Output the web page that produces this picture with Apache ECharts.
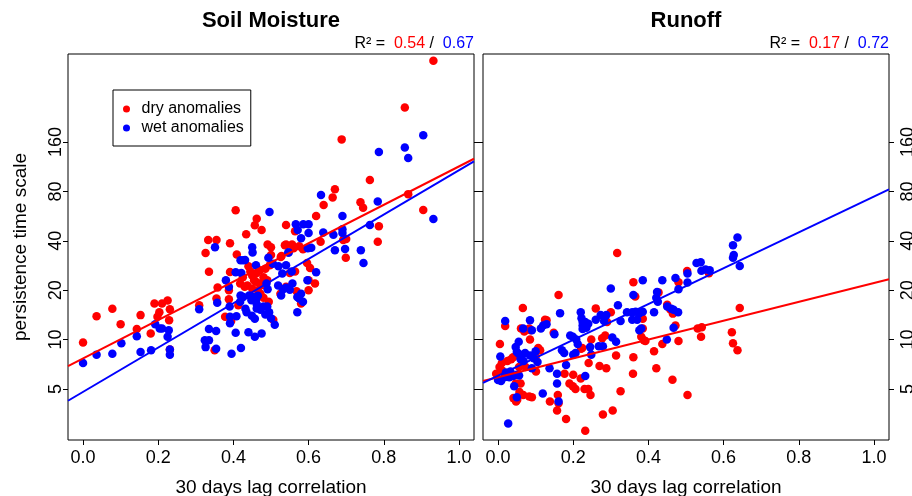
<!DOCTYPE html>
<html>
<head>
<meta charset="utf-8">
<script src="https://cdn.jsdelivr.net/npm/echarts@6/dist/echarts.min.js"></script>
<style>
html, body { margin: 0; padding: 0; background: #fff; }
#main { width: 912px; height: 496px; }
</style>
</head>
<body>
<div id="main"></div>
<script>
// tick positions
var xTicks = [0, 0.2, 0.4, 0.6, 0.8, 1.0];
var yTicks = [5, 10, 20, 40, 80, 160];

// soil moisture: [lag correlation, persistence time scale]
var smDry = [
	[0.00, 9.6], [0.036, 13.9], [0.078, 15.4], [0.10, 12.4], [0.143, 11.6], [0.153, 14.1], [0.18, 10.9],
	[0.19, 16.6], [0.198, 13.8], [0.203, 14.7], [0.21, 16.6], [0.225, 17.3], [0.231, 15.3], [0.229, 13.1],
	[0.231, 8.7], [0.309, 16.2], [0.35, 8.6], [0.326, 33.7], [0.333, 40.5], [0.355, 40.5], [0.335, 25.9],
	[0.358, 20.8], [0.355, 17.8], [0.391, 38.7], [0.391, 25.8], [0.388, 20], [0.388, 17.6], [0.378, 13.8],
	[0.394, 13.0], [0.406, 61.5], [0.409, 33], [0.418, 22], [0.413, 16.2], [0.434, 43.9], [0.44, 28],
	[0.437, 21.4], [0.45, 24.6], [0.455, 23], [0.462, 25.5], [0.47, 22], [0.462, 54.5], [0.457, 49.8],
	[0.475, 46.6], [0.491, 38], [0.5, 36.5], [0.5, 32.8], [0.497, 28.4], [0.494, 17], [0.506, 13.2],
	[0.526, 31.9], [0.54, 50], [0.564, 45.7], [0.537, 37.6], [0.55, 25.5], [0.564, 26], [0.56, 36],
	[0.575, 37], [0.585, 35.5], [0.568, 19.7], [0.58, 16.6], [0.596, 29.3], [0.604, 27.3], [0.60, 23],
	[0.60, 20], [0.617, 22], [0.62, 56.7], [0.64, 66], [0.632, 39.5], [0.664, 73.5], [0.67, 82.5],
	[0.688, 166], [0.692, 40.5], [0.699, 31.5], [0.70, 41], [0.738, 68.8], [0.745, 63.5], [0.763, 94],
	[0.787, 49], [0.784, 39.5], [0.865, 77], [0.856, 260], [0.905, 61.7], [0.932, 500], [0.528, 32.3],
	[0.54, 38], [0.556, 38], [0.425, 24], [0.43, 21], [0.445, 26], [0.45, 20.5], [0.46, 22.5], [0.465, 20],
	[0.47, 26.5], [0.48, 24], [0.485, 27], [0.445, 18.5], [0.472, 19], [0.478, 21.5], [0.49, 23], [0.48, 18],
	[0.525, 19], [0.54, 21]
];
var smWet = [
	[0.0, 7.2], [0.036, 8.1], [0.078, 8.2], [0.102, 9.5], [0.143, 10.5], [0.153, 8.4], [0.181, 8.6],
	[0.192, 12.4], [0.204, 11.7], [0.21, 11.7], [0.225, 10.4], [0.228, 11.4], [0.231, 8.7], [0.231, 8.1],
	[0.309, 15.3], [0.324, 9.9], [0.335, 9.9], [0.326, 9.0], [0.335, 11.6], [0.354, 11.3], [0.354, 8.8],
	[0.351, 36.5], [0.357, 16.8], [0.38, 23], [0.388, 21], [0.39, 15.9], [0.391, 13.8], [0.391, 12.6],
	[0.395, 8.2], [0.406, 25.7], [0.408, 13.9], [0.406, 11.0], [0.419, 30.5], [0.421, 25.5], [0.419, 18.6],
	[0.418, 17.0], [0.42, 8.9], [0.431, 30.6], [0.432, 15.4], [0.435, 14.7], [0.44, 11.1], [0.45, 36.5],
	[0.451, 34], [0.449, 14], [0.457, 13.4], [0.457, 10.4], [0.46, 28.4], [0.46, 17.5], [0.465, 18.5],
	[0.462, 16.5], [0.475, 10.9], [0.488, 22], [0.493, 31.5], [0.491, 20.3], [0.49, 15.9], [0.495, 14.7],
	[0.50, 13.5], [0.51, 12.3], [0.496, 60], [0.505, 29], [0.52, 28], [0.519, 21.4], [0.527, 18.6],
	[0.53, 25.3], [0.54, 28.4], [0.54, 20.7], [0.547, 33.9], [0.557, 22], [0.566, 50.5], [0.586, 50.5],
	[0.6, 50.5], [0.571, 46.6], [0.6, 44.6], [0.58, 41.5], [0.58, 19], [0.57, 18.2], [0.575, 17.8],
	[0.585, 17], [0.57, 14.7], [0.597, 23], [0.598, 36], [0.607, 36.3], [0.62, 25.7], [0.633, 76],
	[0.639, 45], [0.666, 43.6], [0.67, 35], [0.69, 56.7], [0.69, 47], [0.69, 44.7], [0.697, 35.6],
	[0.739, 35], [0.746, 29.3], [0.763, 50], [0.784, 69.5], [0.787, 139], [0.856, 148], [0.865, 128],
	[0.905, 176], [0.932, 54.3], [0.442, 18.6], [0.426, 18.2], [0.448, 17.4], [0.455, 18.2], [0.462, 15.5],
	[0.472, 15.2], [0.48, 15.9], [0.485, 14.2], [0.426, 30.5], [0.555, 26], [0.532, 20.3], [0.55, 20.1],
	[0.546, 34]
];
var smDryFit = [[-0.04, 6.9], [1.04, 126.5]];
var smWetFit = [[-0.04, 4.24], [1.04, 122]];

// runoff
var roDry = [
	[0.317, 33.7], [0.36, 22.4], [0.365, 18.3], [0.30, 14.7], [0.26, 15.5], [0.29, 12.8], [0.277, 10.2],
	[0.248, 10.0], [0.221, 8.8], [0.241, 7.2], [0.27, 6.9], [0.288, 6.7], [0.314, 8.0], [0.36, 7.8],
	[0.359, 6.2], [0.326, 4.85], [0.305, 3.7], [0.279, 3.5], [0.232, 2.78], [0.181, 3.28], [0.157, 3.7],
	[0.138, 4.2], [0.159, 4.6], [0.177, 6.2], [0.19, 5.4], [0.199, 5.2], [0.206, 5.0], [0.23, 5.0],
	[0.24, 5.0], [0.246, 4.6], [0.20, 6.1], [0.22, 5.8], [0.224, 8.9], [0.148, 11], [0.161, 18.7],
	[0.125, 13.2], [0.129, 13.1], [0.107, 8.9], [0.112, 8.6], [0.101, 6.4], [0.1, 7.9], [0.083, 4.5],
	[0.09, 4.45], [0.067, 4.6], [0.057, 4.8], [0.048, 4.2], [0.041, 4.4], [0.051, 4.3], [0.066, 15.6],
	[0.061, 11.7], [0.07, 11.2], [0.083, 11.7], [0.087, 11.4], [0.085, 10], [0.019, 12.1], [0.005, 9.4],
	[0.004, 6.8], [-0.005, 6.2], [0.01, 6.5], [0.01, 7.2], [0.025, 7.4], [0.035, 7.6], [0.04, 7.8],
	[0.06, 8.0], [0.056, 6.8], [0.073, 6.8], [0.047, 5.4], [0.06, 5.4], [0.385, 13.4], [0.385, 11.7],
	[0.388, 9.9], [0.381, 10.4], [0.392, 9.8], [0.415, 8.5], [0.421, 6.7], [0.437, 9.4], [0.427, 19.4],
	[0.45, 16.3], [0.458, 15.3], [0.465, 14.4], [0.472, 12.2], [0.48, 9.8], [0.464, 5.7], [0.504, 4.6],
	[0.48, 22.4], [0.503, 26.2], [0.531, 11.7], [0.542, 11.9], [0.54, 10.4], [0.561, 25.4], [0.622, 11.1],
	[0.625, 9.5], [0.637, 8.6], [0.643, 15.6], [0.285, 10.6], [0.161, 4.1]
];
var roWet = [
	[0.027, 3.08], [0.019, 13], [0.006, 7.9], [0.0, 5.67], [0.008, 5.6], [0.017, 5.9], [0.021, 6.3],
	[0.03, 5.9], [0.033, 6.4], [0.043, 5.2], [0.05, 4.45], [0.04, 6.0], [0.05, 6.1], [0.056, 6.05],
	[0.055, 9.7], [0.047, 9.0], [0.05, 8.4], [0.055, 8.2], [0.06, 7.6], [0.068, 7.4], [0.072, 8.3],
	[0.085, 8.0], [0.095, 7.7], [0.1, 8.5], [0.105, 7.3], [0.09, 6.7], [0.067, 11.7], [0.085, 13.1],
	[0.09, 11.4], [0.114, 11.7], [0.12, 12.2], [0.129, 12.4], [0.15, 10.8], [0.137, 6.7], [0.157, 6.2],
	[0.157, 5.4], [0.161, 4.2], [0.119, 4.7], [0.165, 14.5], [0.181, 7.0], [0.176, 8.3], [0.17, 8.6],
	[0.192, 10.6], [0.199, 10.4], [0.208, 10.0], [0.212, 9.4], [0.206, 8.3], [0.2, 8.1], [0.22, 14.7],
	[0.222, 13.5], [0.225, 12.8], [0.232, 12.8], [0.24, 12.5], [0.235, 11.8], [0.225, 11.6], [0.225, 12.2],
	[0.232, 6.0], [0.245, 9.0], [0.248, 8.1], [0.268, 9.1], [0.279, 9.1], [0.26, 13.2], [0.273, 14.1],
	[0.282, 13.0], [0.288, 14.1], [0.30, 20.5], [0.304, 10.3], [0.314, 9.7], [0.319, 16.2], [0.326, 13],
	[0.343, 14.7], [0.357, 14.7], [0.366, 14.8], [0.376, 14.5], [0.357, 13.2], [0.37, 13.2], [0.385, 14.8],
	[0.36, 18.7], [0.376, 11.4], [0.381, 11.7], [0.385, 23], [0.415, 14.7], [0.421, 18], [0.425, 17],
	[0.423, 19.5], [0.437, 23], [0.449, 10], [0.45, 15.9], [0.461, 15.4], [0.467, 15.2], [0.479, 14.7],
	[0.467, 11.8], [0.472, 23.7], [0.48, 20.3], [0.504, 25.3], [0.504, 22.3], [0.528, 29.3], [0.539, 29.6],
	[0.541, 26.3], [0.552, 26.7], [0.563, 26.5], [0.625, 37.6], [0.627, 32.8], [0.625, 31.5], [0.643, 28.1],
	[0.637, 41.9]
];
var roDryFit = [[-0.04, 5.6], [1.04, 23.3]];
var roWetFit = [[-0.04, 5.45], [1.04, 82.4]];

var r2Soil = ['0.54', '0.67'];
var r2Runoff = ['0.17', '0.72'];

var xMin = -0.04, xMax = 1.04;
var yMin = 2.445, yMax = 550;
var FONT = 'Liberation Sans';
var RED = '#FF0000', BLUE = '#0000FF';

function xAxis(gi) {
	return {
		type: 'value', gridIndex: gi, min: xMin, max: xMax,
		axisLine: { show: false, onZero: false },
		splitLine: { show: false },
		axisTick: { show: true, length: 5, lineStyle: { color: '#000' }, customValues: xTicks },
		axisLabel: {
			customValues: xTicks, margin: 9, fontSize: 18, color: '#000', fontFamily: FONT,
			formatter: function (v) { return v.toFixed(1); }
		},
		name: '30 days lag correlation', nameLocation: 'middle', nameGap: 38,
		nameTextStyle: { fontSize: 19, color: '#000', fontFamily: FONT }
	};
}

function yAxis(gi, pos, withLabels, margin) {
	return {
		type: 'log', logBase: 2, gridIndex: gi, position: pos, min: yMin, max: yMax,
		axisLine: { show: false, onZero: false },
		splitLine: { show: false },
		minorTick: { show: false },
		axisTick: { show: true, length: 5, lineStyle: { color: '#000' }, customValues: yTicks },
		axisLabel: {
			show: withLabels, customValues: yTicks, rotate: 90, margin: margin, fontSize: 18,
			color: '#000', fontFamily: FONT,
			formatter: function (v) { return String(Math.round(v)); }
		}
	};
}

function r2Title(left, vals) {
	return {
		left: left, top: 36, textAlign: 'right', padding: 0,
		text: '{k|R² =  }{r|' + vals[0] + '}{k| /  }{b|' + vals[1] + '}',
		textStyle: {
			fontSize: 16, fontWeight: 'normal', fontFamily: FONT,
			rich: {
				k: { fontSize: 16, fontWeight: 'normal', fontFamily: FONT, color: '#000' },
				r: { fontSize: 16, fontWeight: 'normal', fontFamily: FONT, color: RED },
				b: { fontSize: 16, fontWeight: 'normal', fontFamily: FONT, color: BLUE }
			}
		}
	};
}

function pts(name, data, color, gi, yi, z) {
	return {
		name: name, type: 'scatter', xAxisIndex: gi, yAxisIndex: yi, data: data,
		symbol: 'circle', symbolSize: 8.5, itemStyle: { color: color, opacity: 1 }, z: z, silent: true
	};
}

function fit(name, data, color, gi, yi, z) {
	return {
		name: name, type: 'line', xAxisIndex: gi, yAxisIndex: yi, data: data,
		symbol: 'none', lineStyle: { color: color, width: 2 }, z: z, silent: true
	};
}

var yLeft = yAxis(0, 'left', true, 3);
yLeft.name = 'persistence time scale';
yLeft.nameLocation = 'middle';
yLeft.nameGap = 38;
yLeft.nameTextStyle = { fontSize: 19, color: '#000', fontFamily: FONT };

var myChart = echarts.init(document.getElementById('main'), null, { renderer: 'canvas' });
myChart.setOption({
	animation: false,
	title: [
		{ text: 'Soil Moisture', left: 271, top: 10, textAlign: 'center', padding: 0,
			textStyle: { fontSize: 22, fontWeight: 'bold', color: '#000', fontFamily: FONT } },
		{ text: 'Runoff', left: 686, top: 10, textAlign: 'center', padding: 0,
			textStyle: { fontSize: 22, fontWeight: 'bold', color: '#000', fontFamily: FONT } },
		r2Title(474, r2Soil),
		r2Title(889, r2Runoff)
	],
	legend: {
		orient: 'vertical', left: 113, top: 90, padding: [11, 7, 10, 10], itemGap: 3,
		itemWidth: 20, itemHeight: 7, icon: 'circle', selectedMode: false,
		borderColor: '#000', borderWidth: 1,
		data: ['dry anomalies', 'wet anomalies'],
		textStyle: { fontSize: 16, color: '#000', fontFamily: FONT }
	},
	grid: [
		{ left: 68, top: 54, width: 406, height: 386, outerBoundsMode: 'none',
			show: true, borderColor: '#000', borderWidth: 1 },
		{ left: 483, top: 54, width: 406, height: 386, outerBoundsMode: 'none',
			show: true, borderColor: '#000', borderWidth: 1 }
	],
	xAxis: [xAxis(0), xAxis(1)],
	yAxis: [yLeft, yAxis(0, 'right', false, 8), yAxis(1, 'left', false, 8), yAxis(1, 'right', true, 10)],
	series: [
		pts('dry anomalies', smDry, RED, 0, 0, 2),
		pts('wet anomalies', smWet, BLUE, 0, 0, 3),
		fit('dry fit', smDryFit, RED, 0, 0, 4),
		fit('wet fit', smWetFit, BLUE, 0, 0, 5),
		pts('dry anomalies', roDry, RED, 1, 2, 2),
		pts('wet anomalies', roWet, BLUE, 1, 2, 3),
		fit('dry fit', roDryFit, RED, 1, 2, 4),
		fit('wet fit', roWetFit, BLUE, 1, 2, 5)
	]
});
</script>
</body>
</html>
